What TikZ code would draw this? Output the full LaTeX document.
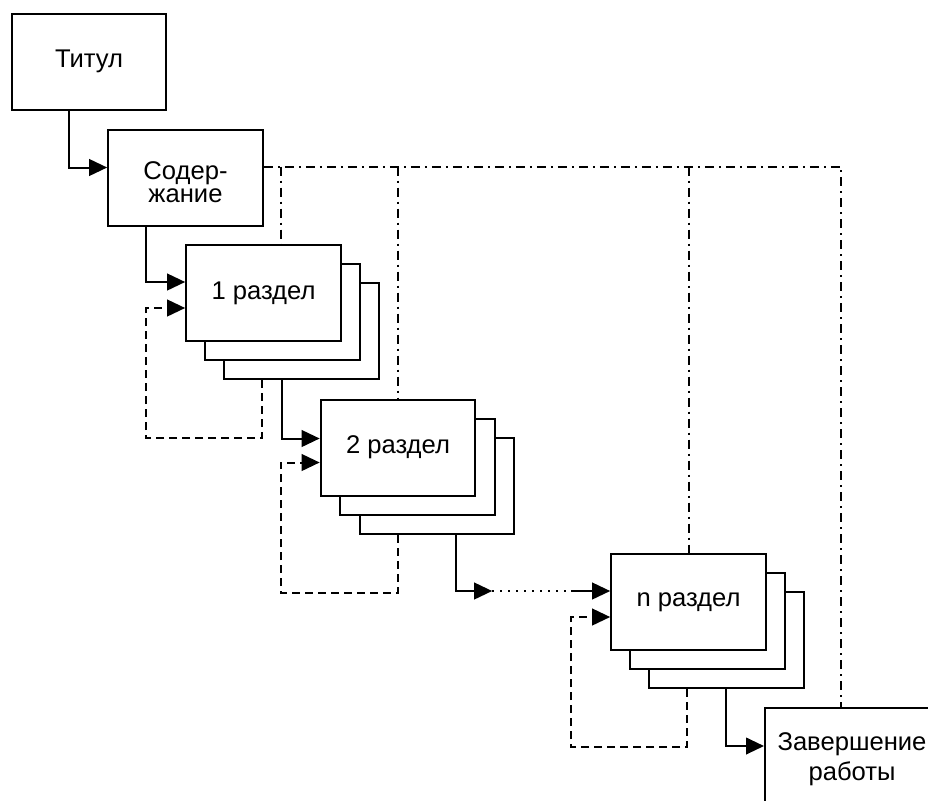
\documentclass[tikz,border=0pt]{standalone}
\usepackage{fontspec}
\setmainfont{Liberation Sans}
\usetikzlibrary{arrows.meta,calc}
\begin{document}
\begin{tikzpicture}[x=0.75pt,y=-0.75pt,line width=1.5pt,
  box/.style={draw,fill=white,minimum width=116pt,minimum height=72pt,
    inner sep=0pt,align=center,font=\fontsize{19.2}{22}\selectfont},
  flow/.style={-{Triangle[length=13.5pt,width=12.5pt]}},
  loopback/.style={dash pattern=on 6pt off 3.75pt},
  bus/.style={dash pattern=on 6.75pt off 3.75pt on 1.5pt off 3.75pt},
  skipped/.style={dash pattern=on 1.5pt off 4.5pt}]
\useasboundingbox (0,0) rectangle (928,800);
\clip (0,0) rectangle (928,800);

% single boxes
\node[box] (tit) at (89,61.5) {Титул};
\node[box,label={[align=center,font=\fontsize{19.2}{17.5}\selectfont,
  yshift=-3.75pt]center:Содер-\\жание}] (sod) at (185.5,177.5) {};

% stacked section boxes: back, middle, front
\node[box] (r1c) at (301.5,331) {};
\node[box] (r1b) at (282.5,312) {};
\node[box] (r1a) at (263.5,293) {1 раздел};

\node[box] (r2c) at (437,486) {};
\node[box] (r2b) at (417.5,466.5) {};
\node[box] (r2a) at (398,447.5) {2 раздел};

\node[box] (rnc) at (726.5,640) {};
\node[box] (rnb) at (707.5,621) {};
\node[box] (rna) at (688.5,602) {n раздел};

\node[box,minimum width=130.5pt,minimum height=76.5pt,
  font=\fontsize{19.2}{22.5}\selectfont] (zav) at (852,759) {Завершение\\работы};

% main flow
\draw[flow] ($(tit.south west)+(58,0)$) |- ($(sod.north west)+(0,39)$);
\draw[flow] ($(sod.south west)+(39,0)$) |- ($(r1a.north west)+(0,38)$);
\draw[flow] ($(r1c.south west)+(59,0)$) |- ($(r2a.north west)+(0,40)$);
\coordinate (gapA) at ($(rna.north west)+(-118,38)$);
\coordinate (gapB) at ($(rna.north west)+(-39,38)$);
\draw[flow] ($(r2c.south west)+(97,0)$) |- (gapA);
\draw[skipped] (gapA) -- (gapB);
\draw[flow] (gapB) -- ($(rna.north west)+(0,38)$);
\draw[flow] ($(rnc.south west)+(78,0)$) |- ($(zav.north west)+(0,39)$);

% return loops
\draw[loopback,flow] ($(r1c.south west)+(39,0)$) -- ++(0,58)
  -| ($(r1a.north west)+(-39,64)$) -- ($(r1a.north west)+(0,64)$);
\draw[loopback,flow] ($(r2c.south west)+(39,0)$) -- ++(0,58)
  -| ($(r2a.north west)+(-39,64)$) -- ($(r2a.north west)+(0,64)$);
\draw[loopback,flow] ($(rnc.south west)+(39,0)$) -- ++(0,58)
  -| ($(rna.north west)+(-39,64)$) -- ($(rna.north west)+(0,64)$);

% links from the contents
\coordinate (busA) at ($(sod.north east)+(0,38)$);
\coordinate (busE) at ($(zav.north west)+(77,0)$);
\draw[bus] (busA) -| (busE);
\coordinate (t1) at ($(r1a.north west)+(96,0)$);
\coordinate (t2) at (r2a.north);
\coordinate (tn) at (rna.north);
\draw[bus] (t1 |- busA) -- (t1);
\draw[bus] (t2 |- busA) -- (t2);
\draw[bus] (tn |- busA) -- (tn);
\end{tikzpicture}
\end{document}
